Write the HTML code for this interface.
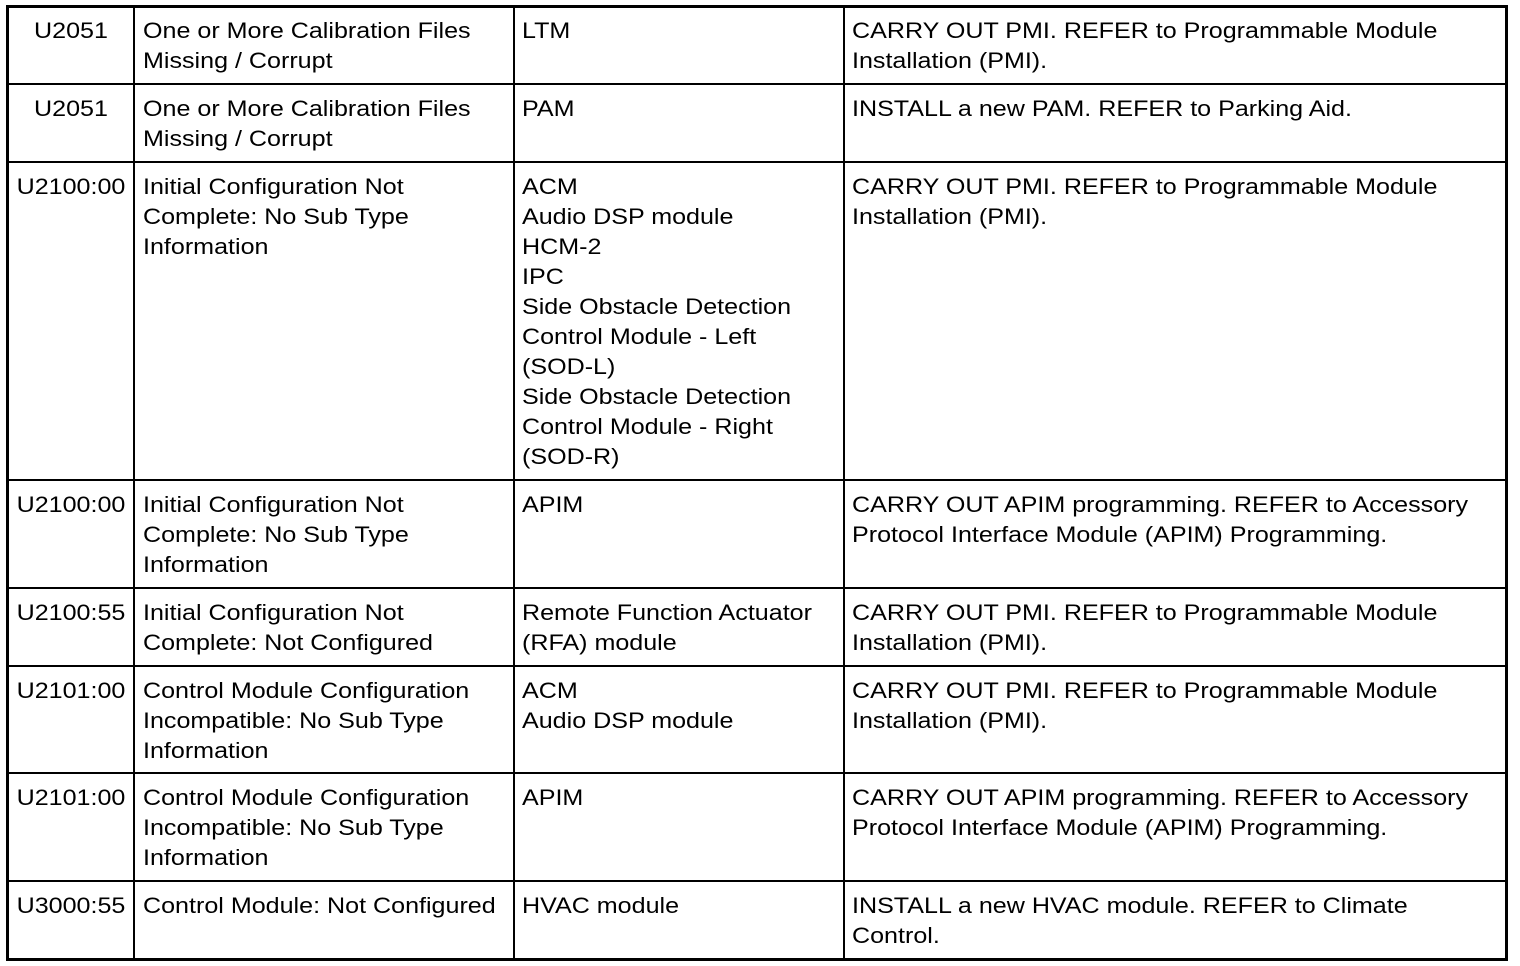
<!DOCTYPE html>
<html><head><meta charset="utf-8"><style>
html,body{margin:0;padding:0;background:#fff;width:1520px;height:966px;overflow:hidden;position:relative}
.l{position:absolute;background:#000}
.t{position:absolute;font-family:"Liberation Sans",Arial,sans-serif;font-size:22px;line-height:30px;color:#000;white-space:pre;transform:scaleX(1.14);transform-origin:0 0}
.c{width:124px;left:9px;text-align:center;transform-origin:62px 0}
</style></head><body>
<div class="l" style="left:6px;top:5px;width:1502px;height:3px"></div>
<div class="l" style="left:6px;top:958px;width:1502px;height:3px"></div>
<div class="l" style="left:6px;top:5px;width:3px;height:956px"></div>
<div class="l" style="left:1505px;top:5px;width:3px;height:956px"></div>
<div class="l" style="left:133px;top:5px;width:2px;height:956px"></div>
<div class="l" style="left:513px;top:5px;width:2px;height:956px"></div>
<div class="l" style="left:843px;top:5px;width:2px;height:956px"></div>
<div class="l" style="left:6px;top:83px;width:1502px;height:2px"></div>
<div class="l" style="left:6px;top:161px;width:1502px;height:2px"></div>
<div class="l" style="left:6px;top:479px;width:1502px;height:2px"></div>
<div class="l" style="left:6px;top:587px;width:1502px;height:2px"></div>
<div class="l" style="left:6px;top:665px;width:1502px;height:2px"></div>
<div class="l" style="left:6px;top:772px;width:1502px;height:2px"></div>
<div class="l" style="left:6px;top:880px;width:1502px;height:2px"></div>

<div class="t c" style="top:16px">U2051</div>
<div class="t" style="left:143px;top:16px">One or More Calibration Files
Missing / Corrupt</div>
<div class="t" style="left:522px;top:16px">LTM</div>
<div class="t" style="left:852px;top:16px">CARRY OUT PMI. REFER to Programmable Module
Installation (PMI).</div>

<div class="t c" style="top:94px">U2051</div>
<div class="t" style="left:143px;top:94px">One or More Calibration Files
Missing / Corrupt</div>
<div class="t" style="left:522px;top:94px">PAM</div>
<div class="t" style="left:852px;top:94px">INSTALL a new PAM. REFER to Parking Aid.</div>

<div class="t c" style="top:172px">U2100:00</div>
<div class="t" style="left:143px;top:172px">Initial Configuration Not
Complete: No Sub Type
Information</div>
<div class="t" style="left:522px;top:172px">ACM
Audio DSP module
HCM-2
IPC
Side Obstacle Detection
Control Module - Left
(SOD-L)
Side Obstacle Detection
Control Module - Right
(SOD-R)</div>
<div class="t" style="left:852px;top:172px">CARRY OUT PMI. REFER to Programmable Module
Installation (PMI).</div>

<div class="t c" style="top:490px">U2100:00</div>
<div class="t" style="left:143px;top:490px">Initial Configuration Not
Complete: No Sub Type
Information</div>
<div class="t" style="left:522px;top:490px">APIM</div>
<div class="t" style="left:852px;top:490px">CARRY OUT APIM programming. REFER to Accessory
Protocol Interface Module (APIM) Programming.</div>

<div class="t c" style="top:598px">U2100:55</div>
<div class="t" style="left:143px;top:598px">Initial Configuration Not
Complete: Not Configured</div>
<div class="t" style="left:522px;top:598px">Remote Function Actuator
(RFA) module</div>
<div class="t" style="left:852px;top:598px">CARRY OUT PMI. REFER to Programmable Module
Installation (PMI).</div>

<div class="t c" style="top:676px">U2101:00</div>
<div class="t" style="left:143px;top:676px">Control Module Configuration
Incompatible: No Sub Type
Information</div>
<div class="t" style="left:522px;top:676px">ACM
Audio DSP module</div>
<div class="t" style="left:852px;top:676px">CARRY OUT PMI. REFER to Programmable Module
Installation (PMI).</div>

<div class="t c" style="top:783px">U2101:00</div>
<div class="t" style="left:143px;top:783px">Control Module Configuration
Incompatible: No Sub Type
Information</div>
<div class="t" style="left:522px;top:783px">APIM</div>
<div class="t" style="left:852px;top:783px">CARRY OUT APIM programming. REFER to Accessory
Protocol Interface Module (APIM) Programming.</div>

<div class="t c" style="top:891px">U3000:55</div>
<div class="t" style="left:143px;top:891px">Control Module: Not Configured</div>
<div class="t" style="left:522px;top:891px">HVAC module</div>
<div class="t" style="left:852px;top:891px">INSTALL a new HVAC module. REFER to Climate
Control.</div>
</body></html>
